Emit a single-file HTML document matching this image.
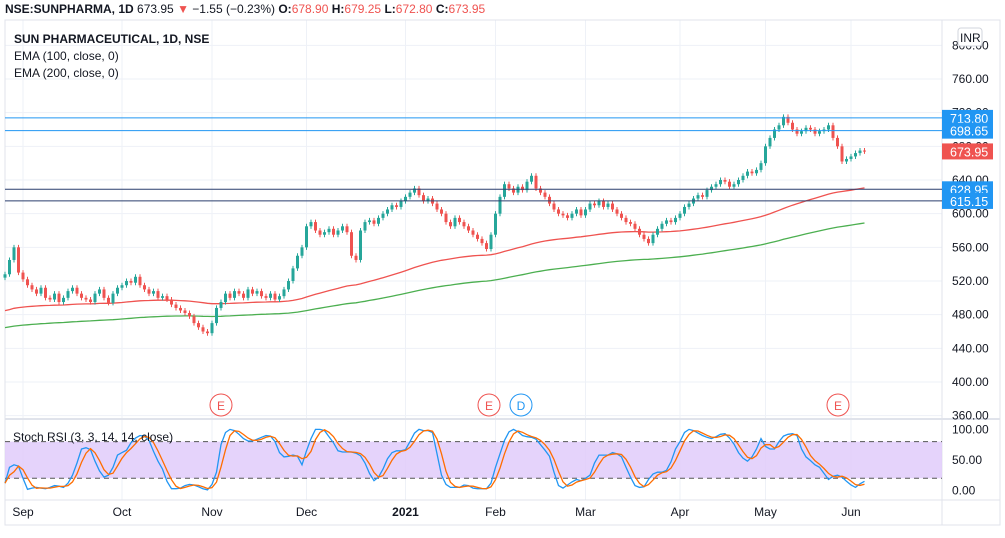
<!DOCTYPE html>
<html><head><meta charset="utf-8"><style>
body{margin:0;background:#fff;font-family:"Liberation Sans",sans-serif}
#wrap{position:relative;width:1005px;height:538px;overflow:hidden}
svg text{font-family:"Liberation Sans",sans-serif}
</style></head><body>
<div id="wrap">
<svg id="c" width="1005" height="538"></svg>
</div>
<script>
const monthLabels=["Sep","Oct","Nov","Dec","2021","Feb","Mar","Apr","May","Jun"];
const monthIdx=[4,26,46,67,89,109,129,150,169,188];
const priceTicks=[800,760,720,680,640,600,560,520,480,440,400,360];
const closes=[528,545,560,530,
522,515,510,505,512,500,498,505,495,500,508,512,505,500,498,495,505,510,500,494,505,512,
515,520,518,525,515,510,505,508,500,502,498,492,488,485,482,478,470,465,460,458,
470,488,495,505,500,508,505,500,510,505,508,502,500,505,498,502,510,520,535,550,560,
585,590,580,575,578,582,575,580,585,578,550,545,580,590,592,588,595,600,605,610,608,615,
620,625,630,622,615,618,612,605,600,590,585,595,590,585,580,575,570,565,558,575,
600,620,635,630,625,632,628,638,645,630,625,620,612,605,600,598,595,600,605,598,
605,612,610,615,608,612,605,600,595,590,588,582,575,570,565,575,582,588,592,590,595,
600,608,612,618,622,620,628,632,635,640,638,632,635,640,645,650,648,652,660,
680,690,700,705,715,708,700,695,698,702,700,695,698,700,705,690,680,662,665,
668,672,675,674];
const stochK=[12,38,42,40,20,2,4,5,4,3,5,8,7,5,12,25,45,68,70,67,48,32,22,25,38,58,62,66,78,86,90,89,82,64,48,35,15,3,3,4,8,10,9,6,3,1,10,30,75,95,100,98,92,85,81,81,84,87,90,89,80,62,55,56,58,56,42,65,85,100,100,98,88,78,65,63,63,63,61,57,45,28,16,22,35,52,62,65,65,67,80,94,100,98,98,95,60,25,10,5,5,5,9,8,4,3,3,3,12,38,60,82,96,100,96,90,88,87,84,75,66,56,30,8,4,9,14,18,16,20,25,45,58,58,58,62,60,55,38,22,8,5,6,18,27,30,30,33,47,68,80,95,100,98,94,90,87,85,88,92,93,86,76,62,53,48,55,68,85,72,68,68,80,89,92,93,90,68,55,49,42,38,28,18,23,25,22,15,9,5,11,15];
const hLevels=[713.80,698.65,628.95,615.15];
const lastPrice=673.95;

const NS="http://www.w3.org/2000/svg";
const svg=document.getElementById('c');
function el(t,a,p){const e=document.createElementNS(NS,t);for(const k in a)e.setAttribute(k,a[k]);(p||svg).appendChild(e);return e;}
const X=i=>5+i*4.5;
const Y=p=>79+(760-p)*0.8417;
const RY=v=>490.5-v*0.611;
const PR=942;

monthIdx.forEach(i=>{const g=el('line',{x1:X(i),x2:X(i),y1:20,y2:500,stroke:'#eef1f7'});});
priceTicks.forEach(p=>{const g=el('line',{x1:5,x2:PR,y1:Y(p),y2:Y(p),stroke:'#eef1f7'});});
el('rect',{x:5,y:20,width:995,height:505,fill:'none',stroke:'#e0e3eb'});
el('line',{x1:PR,x2:PR,y1:20,y2:525,stroke:'#e0e3eb'});
el('line',{x1:5,x2:1000,y1:419,y2:419,stroke:'#e0e3eb',"stroke-width":2});
el('line',{x1:5,x2:1000,y1:500,y2:500,stroke:'#e0e3eb'});

priceTicks.forEach(p=>{const t=el('text',{x:952,y:Y(p)+4,"font-size":12,fill:'#131722'});t.textContent=p.toFixed(2);});

function ema(n,seed){let e=seed,out=[];closes.forEach(c=>{e=e+(c-e)*2/(n+1);out.push(e);});return out;}
function line(vals,col,fy,name){let d='';vals.forEach((v,i)=>{d+=(i?'L':'M')+X(i).toFixed(1)+' '+fy(v).toFixed(1);});const l=el('path',{d:d,fill:'none',stroke:col,"stroke-width":1.3});}
line(ema(100,484),'#ef5350',Y,'ema-100-line');
line(ema(200,464),'#4caf50',Y,'ema-200-line');

closes.forEach((c,i)=>{const o=i?closes[i-1]:c-4;const up=c>=o;const col=up?'#26a69a':'#ef5350';
const hi=Math.max(o,c)+3,lo=Math.min(o,c)-3;
const w=el('line',{x1:X(i),x2:X(i),y1:Y(hi),y2:Y(lo),stroke:col});
const top=Y(Math.max(o,c)),h=Math.max(1,Math.abs(Y(o)-Y(c)));
const b=el('rect',{x:X(i)-1.5,y:top,width:3,height:h,fill:col});});

hLevels.forEach((p,k)=>{const col=k<2?'#2196f3':'#2a3f6e';const l=el('line',{x1:5,x2:PR,y1:Y(p),y2:Y(p),stroke:col});
const r=el('rect',{x:PR,y:Y(p)-8,width:51,height:16,fill:'#2196f3'});
const t=el('text',{x:950,y:Y(p)+5,"font-size":12.5,fill:'#fff'});t.textContent=p.toFixed(2);});
{const r=el('rect',{x:PR,y:Y(lastPrice)-8,width:51,height:16,fill:'#ef5350'});
const t=el('text',{x:950,y:Y(lastPrice)+5,"font-size":12.5,fill:'#fff'});t.textContent=lastPrice.toFixed(2);}
{const r=el('rect',{x:958,y:28,width:24,height:18,rx:3,fill:'#fff',stroke:'#d1d4dc'});
const t=el('text',{x:960,y:42,"font-size":12,fill:'#131722'});t.textContent='INR';}

[[221,'E','#ef5350'],[489,'E','#ef5350'],[521,'D','#2196f3'],[838,'E','#ef5350']].forEach(e=>{const c=el('circle',{cx:e[0],cy:405,r:11,fill:'#fff',stroke:e[2]});
const t=el('text',{x:e[0],y:410,"font-size":12,fill:e[2],"text-anchor":"middle"});t.textContent=e[1];});

{const r=el('rect',{x:5,y:RY(80),width:PR-5,height:RY(20)-RY(80),fill:'#e1cbfa',opacity:0.85});}
[80,20].forEach(v=>{const l=el('line',{x1:5,x2:PR,y1:RY(v),y2:RY(v),stroke:'#555',"stroke-dasharray":"5,4"});});
[100,50,0].forEach(v=>{const t=el('text',{x:952,y:RY(v)+4,"font-size":12,fill:'#131722'});t.textContent=v.toFixed(2);});
const stochD=stochK.map((k,i)=>{const s=stochK.slice(Math.max(0,i-2),i+1);return s.reduce((a,b)=>a+b,0)/s.length;});
line(stochK,'#2196f3',RY,'stoch-k-line');
line(stochD,'#ff6d00',RY,'stoch-d-line');
{const t=el('text',{x:13,y:441,"font-size":12,fill:'#131722'});t.textContent='Stoch RSI (3, 3, 14, 14, close)';}

monthLabels.forEach((m,k)=>{const t=el('text',{x:X(monthIdx[k]),y:516,"font-size":12,fill:'#131722',"text-anchor":"middle","font-weight":m==='2021'?'bold':'normal'});t.textContent=m;});

{const t=el('text',{x:5,y:13,"font-size":12,fill:'#131722'});
t.innerHTML='<tspan font-weight="bold">NSE:SUNPHARMA, 1D</tspan> 673.95 <tspan fill="#ef5350">▼</tspan> −1.55 (−0.23%) <tspan font-weight="bold">O:</tspan><tspan fill="#ef5350">678.90</tspan> <tspan font-weight="bold">H:</tspan><tspan fill="#ef5350">679.25</tspan> <tspan font-weight="bold">L:</tspan><tspan fill="#ef5350">672.80</tspan> <tspan font-weight="bold">C:</tspan><tspan fill="#ef5350">673.95</tspan>';}
[['SUN PHARMACEUTICAL, 1D, NSE',43,'bold','series-legend'],['EMA (100, close, 0)',60,'normal','ema-100-legend'],['EMA (200, close, 0)',77,'normal','ema-200-legend']].forEach(a=>{const t=el('text',{x:14,y:a[1],"font-size":12,fill:'#131722',"font-weight":a[2]});t.textContent=a[0];});
</script>
</body></html>
